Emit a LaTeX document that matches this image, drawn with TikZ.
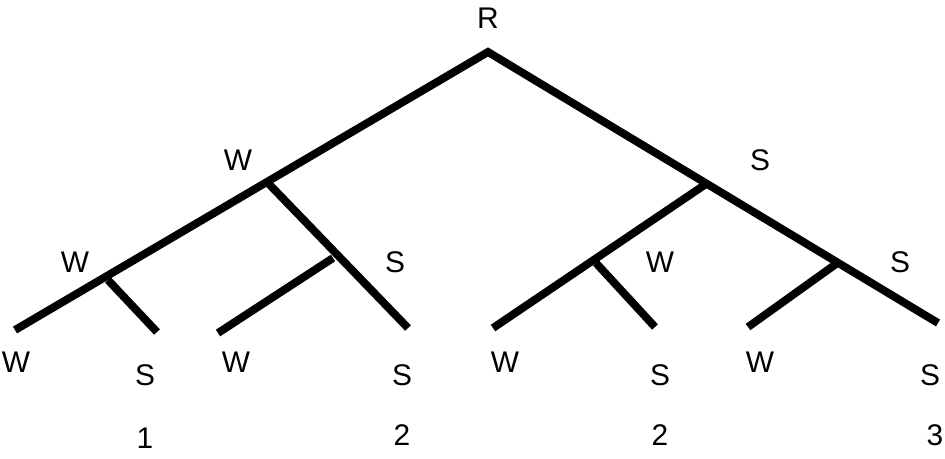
\documentclass[tikz,border=0pt]{standalone}
\usepackage{fontspec}
\setmainfont{Liberation Sans}
\begin{document}
\begin{tikzpicture}[x=0.02cm,y=-0.02cm,
  branch/.style={line width=4.5pt},
  lab/.style={font=\fontsize{17}{20}\selectfont,inner sep=0pt}]
 \useasboundingbox (0,0) rectangle (945,458);
 % tree points
 \coordinate (root) at (488,52);
 \coordinate (ll) at (15,330);
 \coordinate (rr) at (938,323);
 \coordinate (w) at (268,183);
 \coordinate (ws) at (408,328);
 \coordinate (ww) at (108,280);
 \coordinate (wws) at (157,332);
 \coordinate (wsm) at (333,258);
 \coordinate (wsw) at (218,333);
 \coordinate (s) at (706,184);
 \coordinate (sw) at (493,328);
 \coordinate (swm) at (596,263);
 \coordinate (sws) at (655,327);
 \coordinate (ssm) at (836,264);
 \coordinate (ssw) at (748,327);

 \draw[branch] (ll) -- (root) -- (rr);
 \draw[branch] (w) -- (ws);
 \draw[branch] (ww) -- (wws);
 \draw[branch] (wsm) -- (wsw);
 \draw[branch] (s) -- (sw);
 \draw[branch] (swm) -- (sws);
 \draw[branch] (ssm) -- (ssw);

 % labels
 \node[lab] (R) at (488,18) {R};
 \node[lab] (Wa) at (238,160) {W};
 \node[lab] (Sa) at (760,160) {S};
 \node[lab] (Wb) at (75,262) {W};
 \node[lab] (Sb) at (395,262) {S};
 \node[lab] (Wc) at (660,262) {W};
 \node[lab] (Sc) at (900,262) {S};
 \node[lab] (W1) at (16,362) {W};
 \node[lab] (S1) at (145,375) {S};
 \node[lab] (W2) at (236,362) {W};
 \node[lab] (S2) at (402,375) {S};
 \node[lab] (W3) at (505,362) {W};
 \node[lab] (S3) at (660,375) {S};
 \node[lab] (W4) at (760,362) {W};
 \node[lab] (S4) at (930,375) {S};
 \node[lab] (n1) at (145,438) {1};
 \node[lab] (n2) at (402,435) {2};
 \node[lab] (n3) at (660,435) {2};
 \node[lab] (n4) at (935,435) {3};
\end{tikzpicture}
\end{document}
